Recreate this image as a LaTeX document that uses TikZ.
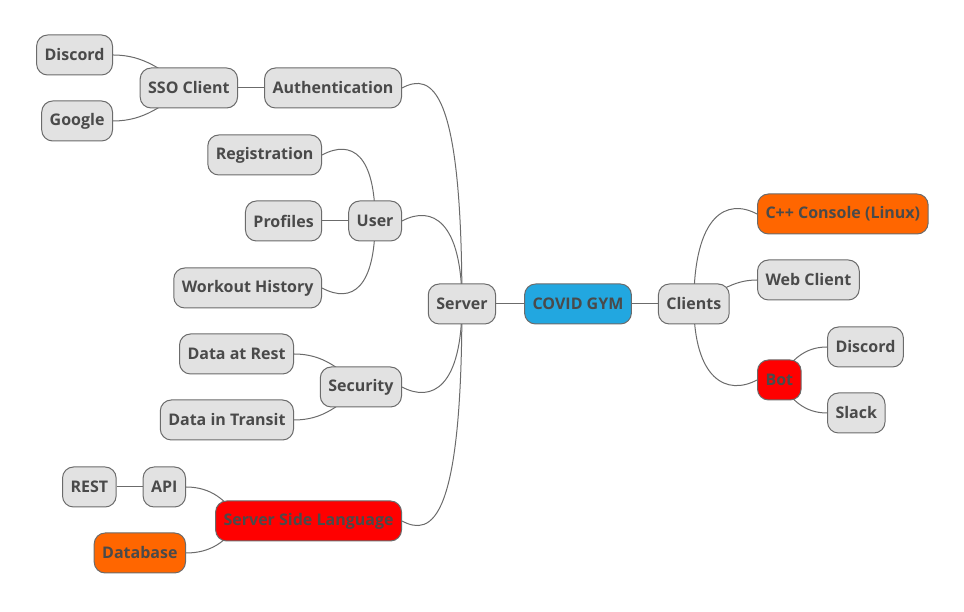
\documentclass[tikz,border=0pt]{standalone}
\usepackage{fontspec}
\setmainfont{Open Sans}
\usetikzlibrary{positioning}
\usetikzlibrary{backgrounds}
\definecolor{nodegray}{HTML}{E2E2E2}
\definecolor{linegray}{HTML}{6B6B6B}
\definecolor{textgray}{HTML}{4A4A4A}
\definecolor{gymblue}{HTML}{22A7E0}
\definecolor{todoorange}{HTML}{FF6600}
\definecolor{todored}{HTML}{FF0000}
\tikzset{
  % Common styles for the mind map
  topic/.style={draw=linegray, fill=nodegray, rounded corners=11pt, minimum height=40pt,
    inner xsep=8pt, line width=1pt, text=textgray, font=\bfseries\fontsize{16}{18}\selectfont},
  link/.style={draw=linegray, line width=1pt},
  up/.style={shift={(#1,16)}},
  down/.style={shift={(#1,-16)}}
}

\begin{document}
\begin{tikzpicture}[x=1pt, y=1pt]
    \useasboundingbox (0,0) rectangle (964,612);

    % Place nodes
    \node [topic, fill=gymblue] (gym) at (578,308) {COVID GYM};
    \node [topic, left=28pt of gym] (srv) {Server};
    \node [topic, right=26pt of gym] (cl) {Clients};

    % Clients side
    \node [topic, anchor=west, fill=todoorange] (cpp) at (757,398) {C++ Console (Linux)};
    \node [topic, anchor=west] (web) at (757,332) {Web Client};
    \node [topic, anchor=west, fill=todored] (bot) at (757,232) {Bot};
    \node [topic, anchor=west] (botdc) at (827,265) {Discord};
    \node [topic, anchor=west] (slack) at (827,199) {Slack};

    % Server side
    \node [topic, anchor=east] (auth) at (402,524) {Authentication};
    \node [topic, left=26pt of auth] (sso) {SSO Client};
    \node [topic, anchor=east] (ssodc) at (113,557) {Discord};
    \node [topic, anchor=east] (google) at (113,491) {Google};
    \node [topic, anchor=east] (user) at (402,391) {User};
    \node [topic, anchor=east] (reg) at (322,457) {Registration};
    \node [topic, left=26pt of user] (prof) {Profiles};
    \node [topic, anchor=east] (hist) at (322,324) {Workout History};
    \node [topic, anchor=east] (sec) at (402,225) {Security};
    \node [topic, anchor=east] (rest) at (294,258) {Data at Rest};
    \node [topic, anchor=east] (transit) at (294,192) {Data in Transit};
    \node [topic, anchor=east, fill=todored] (lang) at (402,91) {Server Side Language};
    \node [topic, anchor=east] (api) at (186,125) {API};
    \node [topic, left=26pt of api] (restapi) {REST};
    \node [topic, anchor=east, fill=todoorange] (db) at (186,59) {Database};

    % Draw edges
    \begin{scope}[on background layer]
    \path [link] (gym) -- (srv);
    \path [link] (gym) -- (cl);
    \path [link] (cl.center) .. controls (cl.center |- cpp.west) and ([up=-30]cpp.west) .. (cpp.west);
    \path [link] (cl.center) to[out=22, in=180] (web.west);
    \path [link] (cl.center) .. controls (cl.center |- bot.west) and ([down=-30]bot.west) .. (bot.west);
    \path [link] (bot.center) to[out=60, in=180] (botdc.west);
    \path [link] (bot.center) to[out=-60, in=180] (slack.west);
    \path [link] (srv.center) .. controls (srv.center |- auth.east) and ([up=30]auth.east) .. (auth.east);
    \path [link] (srv.center) .. controls (srv.center |- user.east) and ([up=30]user.east) .. (user.east);
    \path [link] (srv.center) .. controls (srv.center |- sec.east) and ([down=30]sec.east) .. (sec.east);
    \path [link] (srv.center) .. controls (srv.center |- lang.east) and ([down=30]lang.east) .. (lang.east);
    \path [link] (auth) -- (sso);
    \path [link] (sso.center) to[out=148, in=0] (ssodc.east);
    \path [link] (sso.center) to[out=-148, in=0] (google.east);
    \path [link] (user.center) .. controls (user.center |- reg.east) and ([up=30]reg.east) .. (reg.east);
    \path [link] (user) -- (prof);
    \path [link] (user.center) .. controls (user.center |- hist.east) and ([down=30]hist.east) .. (hist.east);
    \path [link] (sec.center) to[out=140, in=0] (rest.east);
    \path [link] (sec.center) to[out=-140, in=0] (transit.east);
    \path [link] ([xshift=24pt]lang.west) to[out=120, in=0] (api.east);
    \path [link] ([xshift=24pt]lang.west) to[out=-120, in=0] (db.east);
    \path [link] (api) -- (restapi);
    \end{scope}
\end{tikzpicture}
\end{document}
